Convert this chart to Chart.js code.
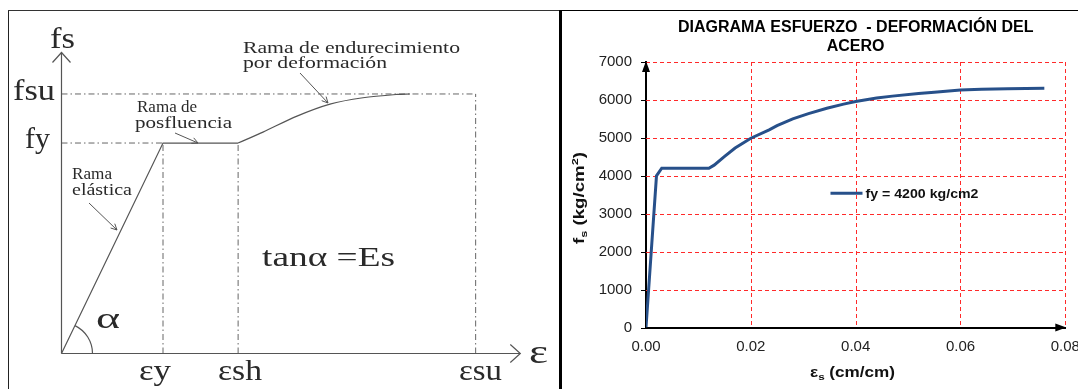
<!DOCTYPE html>
<html>
<head>
<meta charset="utf-8">
<script src="https://cdn.jsdelivr.net/npm/chart.js"></script>
<style>
body { margin: 0; background: #fff; width: 1078px; height: 389px; overflow: hidden; position: relative; }
.box { position: absolute; }
</style>
</head>
<body>
<div class="box" style="left:8px;top:10px;width:552px;height:379px"><canvas id="left"></canvas></div>
<div class="box" style="left:562px;top:10px;width:516px;height:379px"><canvas id="right"></canvas></div>
<div class="box" style="left:8px;top:10px;width:1px;height:379px;background:#222"></div>
<div class="box" style="left:8px;top:10px;width:551px;height:1px;background:#333"></div>
<div class="box" style="left:559px;top:10px;width:3px;height:379px;background:#000"></div>
<div class="box" style="left:562px;top:10px;width:516px;height:1px;background:#000"></div>
<script>
// ---- left panel: idealised diagram (strain in units of eps_y, stress in units of fy)
var epsY = 1.0, epsSh = 1.74, epsSu = 4.08;
var fyLevel = 1.0, fsuLevel = 1.233;
var axisEndX = 4.52, axisEndY = 1.43;
var hardEps = [1.74, 1.985, 2.32, 2.645, 2.97, 3.305, 3.433];
var hardFs  = [1.0, 1.052, 1.128, 1.185, 1.215, 1.231, 1.233];

// ---- right panel: measured curve
var strain = [0, 0.002, 0.003, 0.012, 0.013, 0.015, 0.017, 0.020, 0.0235, 0.025, 0.028, 0.031,
              0.0345, 0.0377, 0.040, 0.044, 0.047, 0.052, 0.055, 0.060, 0.064, 0.069, 0.076];
var stress = [0, 4000, 4200, 4200, 4280, 4510, 4730, 4990, 5210, 5320, 5500, 5640,
              5780, 5890, 5960, 6050, 6100, 6170, 6200, 6260, 6280, 6295, 6305];
var seriesLabel = 'fy = 4200 kg/cm2';
var titleLines = ['DIAGRAMA ESFUERZO  - DEFORMACIÓN DEL', 'ACERO'];

var serif = '"Liberation Serif", "Times New Roman", serif';
var sans = '"Liberation Sans", Arial, sans-serif';
var ink = '#555';
var txt = '#2a2a2a';
var blue = '#27508a';
var red = '#ff2a2a';

function pts(xs, ys) { return xs.map(function (x, i) { return {x: x, y: ys[i]}; }); }

// draw text stretched to a given width (the source image is a bit wide)
function fitText(ctx, text, x, y, font, width) {
  ctx.font = font;
  var w = ctx.measureText(text).width;
  ctx.save();
  ctx.translate(x, y);
  ctx.scale(width ? width / w : 1, 1);
  ctx.textAlign = 'left';
  ctx.textBaseline = 'alphabetic';
  ctx.fillText(text, 0, 0);
  ctx.restore();
}

function chevron(ctx, tx, ty, ang, len, half) {
  var c = Math.cos(ang), s = Math.sin(ang);
  var bx = tx - len * c, by = ty - len * s;
  ctx.beginPath();
  ctx.moveTo(bx - half * s, by + half * c);
  ctx.lineTo(tx, ty);
  ctx.lineTo(bx + half * s, by - half * c);
  ctx.stroke();
}

// ---- left chart
var schemeLabels = [
  ['fs', 42, 38, 29, 25],
  ['fsu', 5, 90, 29, 42],
  ['fy', 17, 138, 29, 25],
  ['Rama de', 129, 102, 17, 60],
  ['posfluencia', 127, 118, 17, 97],
  ['Rama', 64, 169, 17, 40],
  ['elástica', 64, 185, 17, 60],
  ['Rama de endurecimiento', 235, 43, 17, 217],
  ['por deformación', 235, 58, 17, 144],
  ['tanα =Es', 254, 256, 27, 133],
  ['α', 88, 318, 30, 24],
  ['εy', 131, 370, 30, 32],
  ['εsh', 210, 370, 30, 44],
  ['εsu', 451, 370, 30, 43],
  ['ε', 521, 353, 34, 19]
];
var leaders = [[81, 193, 109, 220], [167, 123, 190, 133], [292, 63, 320, 93]];

var schemePlugin = {
  id: 'scheme',
  afterDraw: function (chart) {
    var ctx = chart.ctx, x = chart.scales.x, y = chart.scales.y;
    var ox = x.getPixelForValue(0), oy = y.getPixelForValue(0);
    ctx.save();
    ctx.strokeStyle = ink;
    ctx.lineWidth = 1.2;
    chevron(ctx, ox, y.getPixelForValue(axisEndY), -Math.PI / 2, 10, 9);
    chevron(ctx, x.getPixelForValue(axisEndX), oy, 0, 10, 9);
    var ang = Math.atan2(oy - y.getPixelForValue(fyLevel), x.getPixelForValue(epsY) - ox);
    ctx.beginPath();
    ctx.arc(ox, oy, 31, -ang, 0);
    ctx.stroke();
    ctx.lineWidth = 1;
    leaders.forEach(function (l) {
      ctx.beginPath();
      ctx.moveTo(l[0], l[1]);
      ctx.lineTo(l[2], l[3]);
      ctx.stroke();
      chevron(ctx, l[2], l[3], Math.atan2(l[3] - l[1], l[2] - l[0]), 6, 3);
    });
    ctx.fillStyle = txt;
    schemeLabels.forEach(function (t) {
      fitText(ctx, t[0], t[1], t[2], t[3] + 'px ' + serif, t[4]);
    });
    ctx.restore();
  }
};

function seg(data, extra) {
  return Object.assign({data: data, showLine: true, pointRadius: 0, borderColor: ink,
    borderWidth: 1.2, fill: false, clip: false, tension: 0}, extra || {});
}
var dashDot = {borderDash: [6, 3, 1.5, 3], borderWidth: 1, borderColor: '#666'};

new Chart(document.getElementById('left'), {
  type: 'scatter',
  data: {
    datasets: [
      seg(pts([0, 0], [0, axisEndY])),
      seg(pts([0, axisEndX], [0, 0])),
      seg(pts([0, epsY, epsSh], [0, fyLevel, fyLevel])),
      seg(pts(hardEps, hardFs), {tension: 0.3}),
      seg(pts([0, epsY], [fyLevel, fyLevel]), dashDot),
      seg(pts([0, epsSu], [fsuLevel, fsuLevel]), dashDot),
      seg(pts([epsY, epsY], [0, fyLevel]), dashDot),
      seg(pts([epsSh, epsSh], [0, fyLevel]), dashDot),
      seg(pts([epsSu, epsSu], [0, fsuLevel]), dashDot)
    ]
  },
  options: {
    responsive: true,
    maintainAspectRatio: false,
    animation: false,
    events: [],
    plugins: {legend: {display: false}, tooltip: {enabled: false}},
    scales: {
      x: {type: 'linear', display: false, min: -0.527, max: 4.911},
      y: {type: 'linear', display: false, min: -0.1686, max: 1.632}
    }
  },
  plugins: [schemePlugin]
});

// ---- right chart
function richText(ctx, parts, size, width) {
  var total = 0;
  function fontOf(p) { return 'bold ' + (p.k ? size * 0.68 : size) + 'px ' + sans; }
  parts.forEach(function (p) { ctx.font = fontOf(p); p.w = ctx.measureText(p.t).width; total += p.w; });
  ctx.save();
  ctx.scale(width / total, 1);
  ctx.textBaseline = 'alphabetic';
  ctx.textAlign = 'left';
  var cx = -total / 2;
  parts.forEach(function (p) {
    ctx.font = fontOf(p);
    var dy = p.k === 'sub' ? size * 0.22 : (p.k === 'sup' ? -size * 0.42 : 0);
    ctx.fillText(p.t, cx, dy);
    cx += p.w;
  });
  ctx.restore();
}

// red dashed grid, taken from the scales' own ticks
var gridPlugin = {
  id: 'redGrid',
  beforeDatasetsDraw: function (chart) {
    var ctx = chart.ctx, a = chart.chartArea, xs = chart.scales.x, ys = chart.scales.y;
    ctx.save();
    ctx.strokeStyle = red;
    ctx.lineWidth = 1;
    ctx.setLineDash([4, 3]);
    xs.ticks.forEach(function (t) {
      if (t.value === 0) return;
      var px = Math.round(xs.getPixelForValue(t.value)) + 0.5;
      ctx.beginPath();
      ctx.moveTo(px, a.top);
      ctx.lineTo(px, a.bottom);
      ctx.stroke();
    });
    ys.ticks.forEach(function (t) {
      if (t.value === 0) return;
      var py = Math.round(ys.getPixelForValue(t.value)) + 0.5;
      ctx.beginPath();
      ctx.moveTo(a.left, py);
      ctx.lineTo(a.right, py);
      ctx.stroke();
    });
    ctx.restore();
  }
};

var decorPlugin = {
  id: 'decor',
  afterDraw: function (chart) {
    var ctx = chart.ctx, a = chart.chartArea, ys = chart.scales.y;
    ctx.save();
    // small black tick marks left of the stress axis
    ctx.strokeStyle = '#000';
    ctx.lineWidth = 1;
    ys.ticks.forEach(function (t) {
      var py = Math.round(ys.getPixelForValue(t.value)) + 0.5;
      ctx.beginPath();
      ctx.moveTo(a.left - 5, py);
      ctx.lineTo(a.left, py);
      ctx.stroke();
    });
    ctx.fillStyle = '#000';
    // axis arrowheads
    ctx.beginPath();
    ctx.moveTo(a.left, a.top - 1);
    ctx.lineTo(a.left - 4, a.top + 10);
    ctx.lineTo(a.left + 4, a.top + 10);
    ctx.fill();
    ctx.beginPath();
    ctx.moveTo(a.right + 1, a.bottom);
    ctx.lineTo(a.right - 10, a.bottom - 4);
    ctx.lineTo(a.right - 10, a.bottom + 4);
    ctx.fill();
    // axis titles
    ctx.fillStyle = '#111';
    ctx.save();
    ctx.translate(290.5, 367);
    richText(ctx, [{t: 'ε'}, {t: 's', k: 'sub'}, {t: ' (cm/cm)'}], 14.5, 85);
    ctx.restore();
    ctx.save();
    ctx.translate(22, 188);
    ctx.rotate(-Math.PI / 2);
    richText(ctx, [{t: 'f'}, {t: 's', k: 'sub'}, {t: ' (kg/cm'}, {t: '2', k: 'sup'}, {t: ')'}], 14.5, 92);
    ctx.restore();
    // legend
    var ds = chart.data.datasets[0];
    var lx = chart.scales.x.getPixelForValue(0.0352);
    var ly = ys.getPixelForValue(3540);
    ctx.strokeStyle = ds.borderColor;
    ctx.lineWidth = ds.borderWidth;
    ctx.beginPath();
    ctx.moveTo(lx, ly);
    ctx.lineTo(lx + 32, ly);
    ctx.stroke();
    ctx.fillStyle = '#111';
    fitText(ctx, ds.label, lx + 35, ly + 5, 'bold 13px ' + sans, 113);
    ctx.restore();
  }
};

new Chart(document.getElementById('right'), {
  type: 'scatter',
  data: {
    datasets: [{
      label: seriesLabel,
      data: pts(strain, stress),
      showLine: true,
      pointRadius: 0,
      borderColor: blue,
      borderWidth: 3,
      tension: 0,
      fill: false
    }]
  },
  options: {
    responsive: true,
    maintainAspectRatio: false,
    animation: false,
    events: [],
    layout: {padding: {left: 0, right: 12.7, top: 0, bottom: 0}},
    plugins: {
      legend: {display: false},
      tooltip: {enabled: false},
      title: {
        display: true,
        fullSize: false,
        text: titleLines,
        color: '#000',
        font: {family: sans, size: 16, weight: 'bold', lineHeight: 1.2},
        padding: {top: 8, bottom: 5.6}
      }
    },
    scales: {
      x: {
        type: 'linear', min: 0, max: 0.08,
        ticks: {stepSize: 0.02, callback: function (v) { return v.toFixed(2); },
          font: {family: sans, size: 15}, color: '#222', padding: 10, maxRotation: 0, autoSkip: false},
        grid: {display: false, drawTicks: false},
        border: {color: '#000', width: 2},
        afterFit: function (s) { s.height = 61.5; s.paddingLeft = 0; s.paddingRight = 0; }
      },
      y: {
        type: 'linear', min: 0, max: 7000,
        ticks: {stepSize: 1000, callback: function (v) { return String(v); },
          font: {family: sans, size: 15}, color: '#222', padding: 14},
        grid: {display: false, drawTicks: false},
        border: {color: '#000', width: 2},
        afterFit: function (s) { s.width = 84; s.paddingTop = 0; s.paddingBottom = 0; }
      }
    }
  },
  plugins: [gridPlugin, decorPlugin]
});
</script>
</body>
</html>
